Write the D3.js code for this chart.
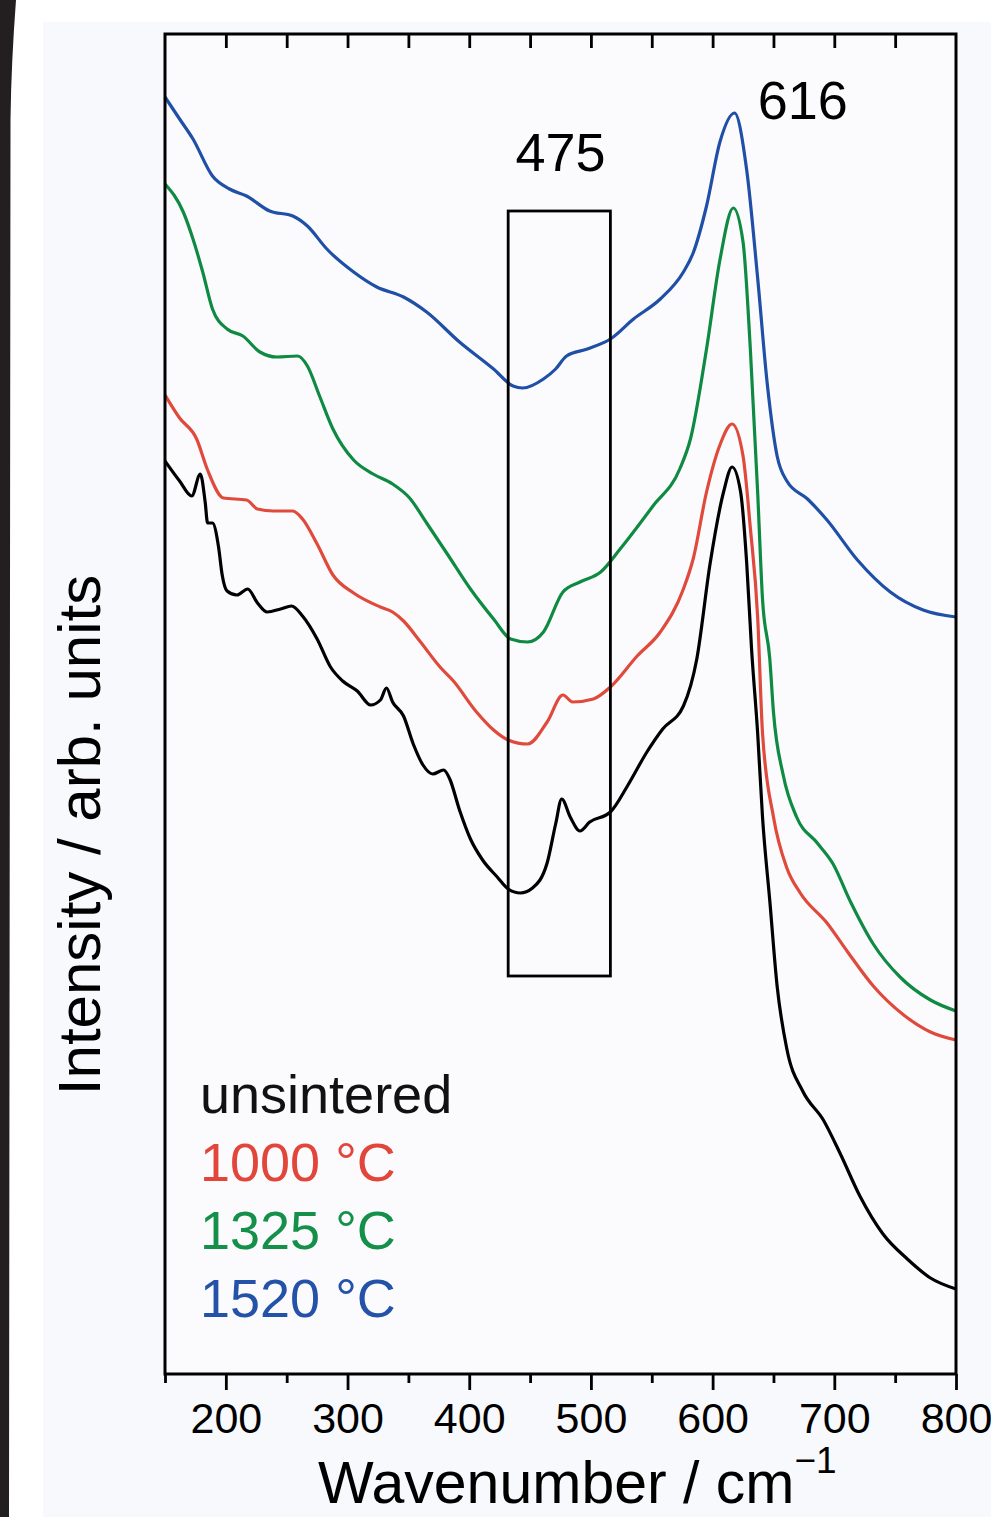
<!DOCTYPE html>
<html>
<head>
<meta charset="utf-8">
<script src="https://cdn.jsdelivr.net/npm/d3@7"></script>
<style>
  html, body { margin: 0; padding: 0; background: #ffffff; }
  svg { display: block; }
  text { font-family: "Liberation Sans", Arial, Helvetica, sans-serif; }
</style>
</head>
<body>
<div id="chart"></div>
<script>
// ---------- data (wavenumber in cm^-1, intensity in arbitrary units) ----------
const blackX = [150,162,172,179,183,185,189,194,197,201,209,218,226,234,245,254,263,275,286,296,308,319,327,332,337,346,354,362,370,379,384,392,401,411,423,432,442,452,464,471,476,483,491,499,516,530,546,559,576,587,598,609,616,623,628,632,637,641,647,653,661,674,691,705,721,740,760,779,800];
const blackY = [913,893,878,900,872,851,851,827,799,783,779,785,771,762,765,768,758,735,707,693,683,669,674,686,672,658,630,609,600,604,595,564,535,514,497,485,481,486,511,550,575,557,543,552,562,588,622,645,668,715,811,882,907,882,811,725,641,557,473,388,325,283,254,220,178,140,115,96,85];

const redX = [150,162,176,185,198,217,226,239,255,263,275,288,305,327,337,346,360,376,387,406,420,432,448,464,477,485,502,516,538,557,576,584,595,606,616,625,631,637,641,650,661,672,694,711,732,757,779,800];
const redY = [979,956,935,904,876,874,865,863,863,855,830,799,781,767,762,753,732,707,693,662,644,634,630,652,679,672,675,687,718,742,785,815,882,929,950,918,846,757,641,557,506,481,451,422,388,359,342,334];

const greenX = [150,165,173,181,189,201,214,228,242,259,267,277,288,305,321,337,351,365,382,401,420,434,448,461,477,491,508,524,551,573,582,595,606,617,625,631,637,641,647,650,658,669,686,699,713,732,754,779,800];
const greenY = [1190,1162,1135,1102,1065,1045,1038,1022,1017,1018,1008,978,945,914,900,890,876,851,820,785,755,735,732,742,782,792,802,825,868,905,936,1025,1114,1166,1132,1025,882,775,715,662,599,557,531,510,473,430,397,374,363];

const blueX = [150,162,173,189,203,217,236,255,267,283,305,324,346,365,392,420,436,444,461,471,480,497,516,535,557,576,584,595,606,618,628,637,645,653,661,678,694,719,746,773,800];
const blueY = [1277,1255,1235,1198,1185,1178,1163,1158,1148,1125,1102,1087,1077,1062,1032,1005,988,986,995,1005,1018,1025,1035,1055,1075,1102,1121,1168,1232,1261,1204,1096,989,918,893,875,854,814,782,764,757];

const seriesNames = ["unsintered", "1000 °C", "1325 °C", "1520 °C"];
const seriesColors = ["#111111", "#e2453a", "#14904a", "#2352a8"];
const lineColors = ["#000000", "#e04a3c", "#0f8a42", "#1f4fa6"];

const majorTicks = [200, 300, 400, 500, 600, 700, 800];
const minorTicks = [150, 250, 350, 450, 550, 650, 750];
const topTicks = [200, 250, 300, 350, 400, 450, 500, 550, 600, 650, 700, 750];

const boxX = [432, 516];      // highlighted range (cm^-1)
const boxY = [398, 1163];     // intensity range of the box
const annotations = [
  { label: "475", x: 475, y: 1203, anchor: "middle" },
  { label: "616", x: 637, y: 1255, anchor: "start" }
];

// ---------- layout ----------
const W = 991, H = 1517;
const plot = { left: 165, right: 956, top: 34, bottom: 1374 };

const svg = d3.select("#chart").append("svg")
  .attr("width", W).attr("height", H);

// page background
svg.append("rect").attr("width", W).attr("height", H).attr("fill", "#ffffff");
svg.append("rect").attr("x", 43).attr("y", 22).attr("width", W - 43).attr("height", H - 22)
  .attr("fill", "#f8f9fc");
svg.append("path")
  .attr("d", "M0,0 L16,0 C13,40 11,80 10.5,120 L9,1517 L0,1517 Z")
  .attr("fill", "#231f20");

const x = d3.scaleLinear().domain([150, 800]).range([plot.left, plot.right]);
const y = d3.scaleLinear().domain([0, 1340]).range([plot.bottom, plot.top]);

// plot area background
svg.append("rect")
  .attr("x", plot.left).attr("y", plot.top)
  .attr("width", plot.right - plot.left).attr("height", plot.bottom - plot.top)
  .attr("fill", "#fbfbfd");

// ---------- lines ----------
const seriesXs = [blackX, redX, greenX, blueX];
const seriesYs = [blackY, redY, greenY, blueY];
const line = d3.line().x(d => x(d[0])).y(d => y(d[1])).curve(d3.curveMonotoneX);

const gLines = svg.append("g");
[3, 2, 1, 0].forEach(i => {
  const pts = seriesXs[i].map((v, k) => [v, seriesYs[i][k]]);
  gLines.append("path")
    .datum(pts)
    .attr("d", line)
    .attr("fill", "none")
    .attr("stroke", lineColors[i])
    .attr("stroke-width", 3.2)
    .attr("stroke-linejoin", "round");
});

// ---------- highlight box ----------
svg.append("rect")
  .attr("x", x(boxX[0])).attr("y", y(boxY[1]))
  .attr("width", x(boxX[1]) - x(boxX[0]))
  .attr("height", y(boxY[0]) - y(boxY[1]))
  .attr("fill", "none").attr("stroke", "#000").attr("stroke-width", 2.8);

// ---------- axes ----------
const axisMajor = d3.axisBottom(x).tickValues(majorTicks).tickSize(16).tickPadding(10)
  .tickFormat(d3.format("d"));
const gMajor = svg.append("g").attr("transform", `translate(0,${plot.bottom})`).call(axisMajor);
gMajor.select(".domain").remove();
gMajor.selectAll("line").attr("stroke", "#000").attr("stroke-width", 2.8);
gMajor.selectAll("text")
  .attr("font-size", 43).attr("fill", "#000")
  .attr("font-family", "'Liberation Sans', Arial, sans-serif")
  .attr("dy", null).attr("y", 59);

const axisMinor = d3.axisBottom(x).tickValues(minorTicks).tickSize(9).tickFormat("");
const gMinor = svg.append("g").attr("transform", `translate(0,${plot.bottom})`).call(axisMinor);
gMinor.select(".domain").remove();
gMinor.selectAll("line").attr("stroke", "#000").attr("stroke-width", 2.8);

const axisTop = d3.axisBottom(x).tickValues(topTicks).tickSize(14).tickFormat("");
const gTop = svg.append("g").attr("transform", `translate(0,${plot.top})`).call(axisTop);
gTop.select(".domain").remove();
gTop.selectAll("line").attr("stroke", "#000").attr("stroke-width", 2.8);

// frame
svg.append("rect")
  .attr("x", plot.left).attr("y", plot.top)
  .attr("width", plot.right - plot.left).attr("height", plot.bottom - plot.top)
  .attr("fill", "none").attr("stroke", "#000").attr("stroke-width", 3);

// ---------- annotations ----------
annotations.forEach(a => {
  svg.append("text")
    .attr("x", x(a.x)).attr("y", y(a.y))
    .attr("text-anchor", a.anchor)
    .attr("font-size", 54).attr("fill", "#000")
    .text(a.label);
});

// ---------- legend ----------
seriesNames.forEach((name, i) => {
  svg.append("text")
    .attr("x", 200).attr("y", 1113 + i * 68)
    .attr("font-size", 54).attr("fill", seriesColors[i])
    .text(name);
});

// ---------- axis titles ----------
const xt = svg.append("text").attr("x", 318).attr("y", 1503)
  .attr("font-size", 59).attr("fill", "#000");
xt.append("tspan").text("Wavenumber / cm");
xt.append("tspan").attr("dy", -30).attr("font-size", 37).text("\u22121");

svg.append("text")
  .attr("transform", "translate(100,835) rotate(-90)")
  .attr("text-anchor", "middle")
  .attr("font-size", 60).attr("fill", "#000")
  .text("Intensity / arb. units");
</script>
</body>
</html>
